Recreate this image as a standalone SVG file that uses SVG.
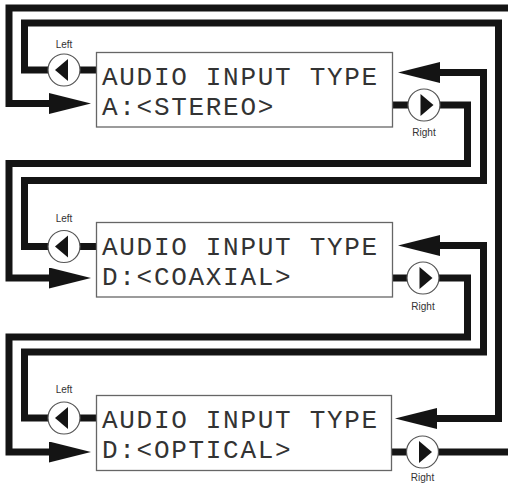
<svg xmlns="http://www.w3.org/2000/svg" width="508" height="484" viewBox="0 0 508 484">
<style>
.wire{fill:none;stroke:#141414;stroke-width:7;stroke-linejoin:miter;stroke-linecap:butt}
.arrow{fill:#141414}
.box{fill:#fff;stroke:#666;stroke-width:1.3}
.lcd{font-family:"Liberation Mono","DejaVu Sans Mono",monospace;font-size:26px;letter-spacing:1.7px;fill:#333}
.btn{fill:#fff;stroke:#555;stroke-width:1.2}
.tri{fill:#141414}
.lbl{font-family:"Liberation Sans",Arial,sans-serif;font-size:10px;fill:#333;text-anchor:middle}
</style>
<defs>
<marker id="ah" markerUnits="userSpaceOnUse" markerWidth="42" markerHeight="21" refX="0" refY="10.5" orient="auto" viewBox="0 0 42 21">
<path d="M0,0 L42,10.5 L0,21 Z" class="arrow"/>
</marker>
</defs>
<rect width="508" height="484" fill="#fff"/>
<g id="connectors">
<path class="wire" d="M508,8 H9 V103.5 H49" marker-end="url(#ah)"/>
<path class="wire" d="M96,70 H24.5 V23 H498.5 V418.5 H437" marker-end="url(#ah)"/>
<path class="wire" d="M393,105 H467.5 V163.5 H9 V278 H49" marker-end="url(#ah)"/>
<path class="wire" d="M96,246.5 H24.5 V180.5 H483.5 V72.5 H440" marker-end="url(#ah)"/>
<path class="wire" d="M393,278 H467.5 V337 H9 V452 H49" marker-end="url(#ah)"/>
<path class="wire" d="M96,418 H24.5 V352 H483.5 V245.5 H440" marker-end="url(#ah)"/>
<path class="wire" d="M392,452 H508"/>
</g>
<g id="panel-stereo">
<rect class="box" x="96.5" y="52.5" width="296" height="74.5"/>
<text class="lcd" x="102" y="85">AUDIO INPUT TYPE</text>
<text class="lcd" x="102" y="115">A:&lt;STEREO&gt;</text>
<g id="stereo-left"><circle class="btn" cx="64" cy="70" r="16"/><polygon class="tri" points="55,70 68,59 68,81"/><text class="lbl" x="64" y="48">Left</text></g>
<g id="stereo-right"><circle class="btn" cx="424" cy="105" r="16"/><polygon class="tri" points="433.5,105 420.5,94 420.5,116"/><text class="lbl" x="424" y="136">Right</text></g>
</g>
<g id="panel-coaxial">
<rect class="box" x="96.5" y="222.5" width="296" height="74.5"/>
<text class="lcd" x="102" y="254.5">AUDIO INPUT TYPE</text>
<text class="lcd" x="102" y="284.5">D:&lt;COAXIAL&gt;</text>
<g id="coaxial-left"><circle class="btn" cx="64" cy="246.5" r="16"/><polygon class="tri" points="55,246.5 68,235.5 68,257.5"/><text class="lbl" x="64" y="222">Left</text></g>
<g id="coaxial-right"><circle class="btn" cx="423" cy="278" r="16"/><polygon class="tri" points="432.5,278 419.5,267 419.5,289"/><text class="lbl" x="423" y="310">Right</text></g>
</g>
<g id="panel-optical">
<rect class="box" x="96.5" y="395.5" width="295" height="75"/>
<text class="lcd" x="102" y="427.5">AUDIO INPUT TYPE</text>
<text class="lcd" x="102" y="457.5">D:&lt;OPTICAL&gt;</text>
<g id="optical-left"><circle class="btn" cx="64" cy="418" r="16"/><polygon class="tri" points="55,418 68,407 68,429"/><text class="lbl" x="64" y="393">Left</text></g>
<g id="optical-right"><circle class="btn" cx="422.5" cy="452" r="16"/><polygon class="tri" points="432,452 419,441 419,463"/><text class="lbl" x="422.5" y="481">Right</text></g>
</g>
</svg>
